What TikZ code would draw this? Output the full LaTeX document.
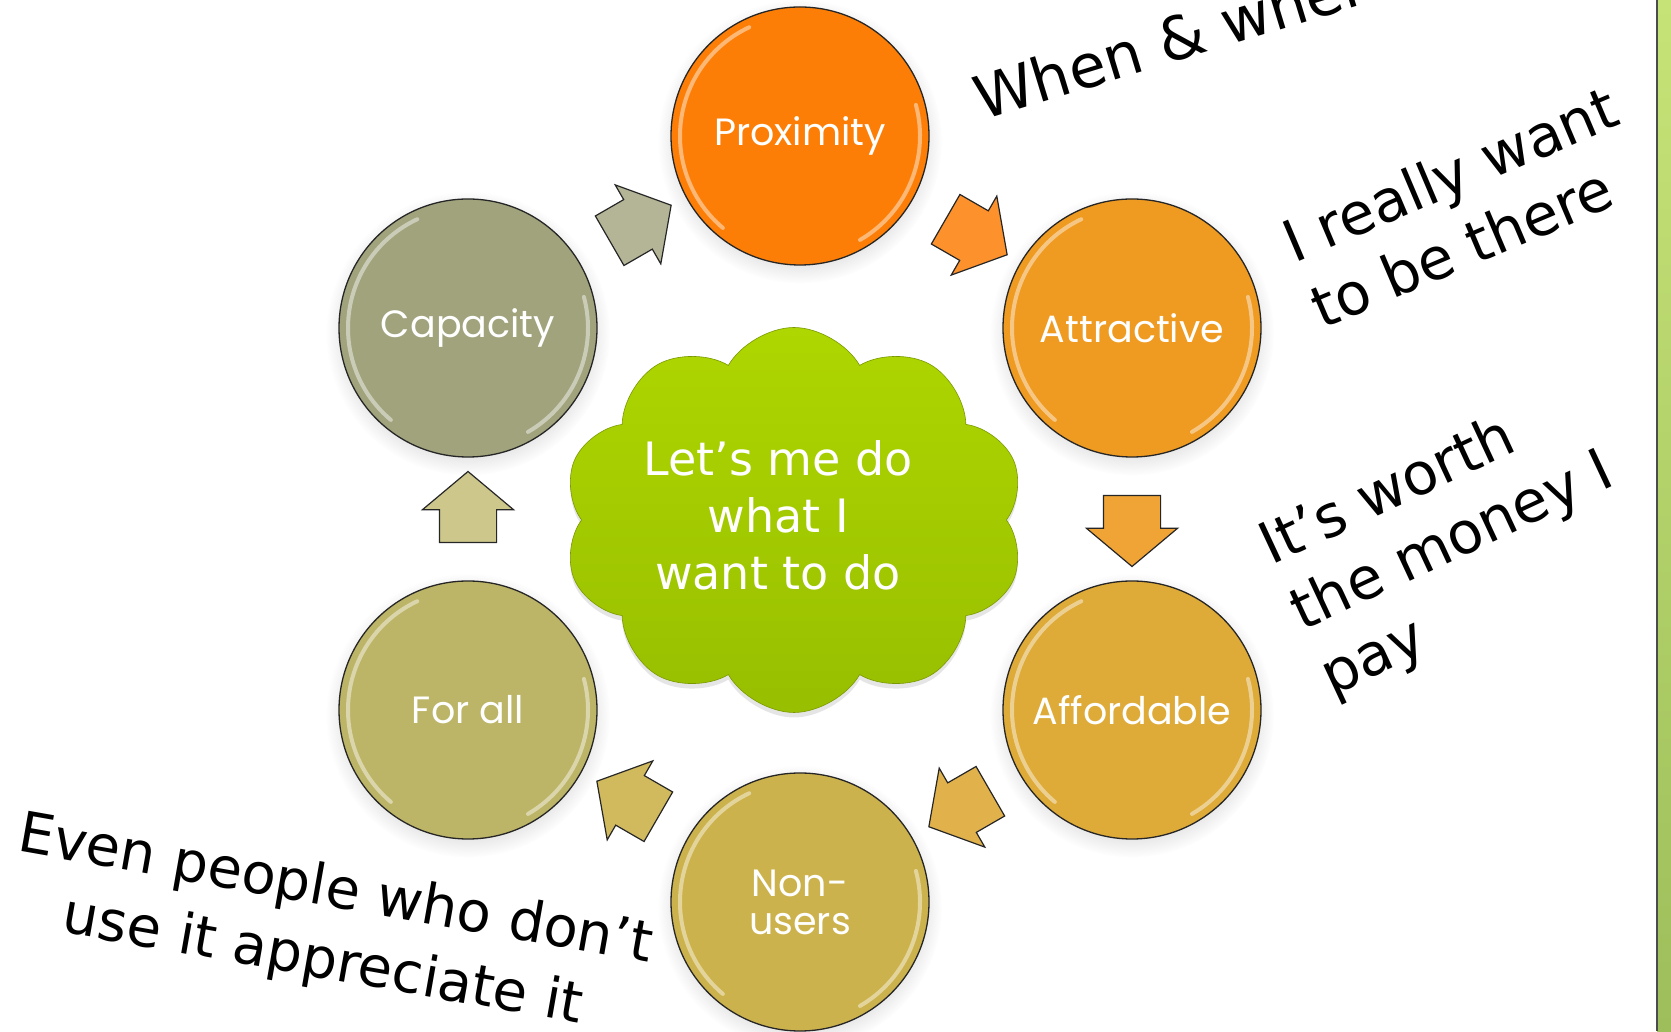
\documentclass[tikz,border=0pt]{standalone}
\usepackage{fontspec}
\setmainfont{DejaVu Sans}
\newfontfamily\ballfont{Poppins}
\usetikzlibrary{shapes.symbols,shapes.arrows,shadows}

\definecolor{proxC}{HTML}{FD7E07}
\definecolor{attrC}{HTML}{EF9A20}
\definecolor{affoC}{HTML}{DEAA38}
\definecolor{nonuC}{HTML}{CCB24C}
\definecolor{forC}{HTML}{BCB466}
\definecolor{capaC}{HTML}{A1A37D}
\definecolor{cloudTop}{HTML}{AED600}
\definecolor{cloudBot}{HTML}{98BF00}
\definecolor{barTop}{HTML}{C6E377}
\definecolor{barBot}{HTML}{9DBE5B}

\begin{document}
\begin{tikzpicture}[x=1pt,y=1pt]
		\tikzstyle{Ball}  = [circle, draw=black!85, line width=1.3pt, minimum size=258pt, inner sep=0pt, text=white, font=\ballfont\fontsize{38}{42}\selectfont, align=center, circular drop shadow={shadow xshift=0pt, shadow yshift=-5pt, opacity=0.2}]
		\tikzstyle{Gloss} = [white, opacity=0.45, line width=4pt, line cap=round]
		\tikzstyle{Turn}  = [single arrow, draw=black!85, line width=1.2pt, inner xsep=0pt, inner ysep=28pt, minimum height=71pt, single arrow head extend=17pt, single arrow tip angle=100]
		\tikzstyle{Note}  = [font=\fontsize{58}{72}\selectfont, align=left, inner sep=0pt]

		\clip (0,0) rectangle (1671,1031);
		\fill[white] (0,0) rectangle (1671,1031);

		% band on the right edge
		\fill[top color=barTop, bottom color=barBot] (1657,0) rectangle (1671,1031);
		\draw[black!70, line width=1.5pt] (1657,0) -- (1657,1031);

		\node (want) at (794,511) [cloud, cloud puffs=10, cloud puff arc=120, aspect=1.25, minimum width=462pt, minimum height=385pt, inner sep=0pt, top color=cloudTop, bottom color=cloudBot, draw=cloudBot!80!black, line width=0.6pt, drop shadow={shadow xshift=0pt, shadow yshift=-5pt, opacity=0.2}] {};
		\node (wanttext) at (778,516) [text=white, align=center, font=\fontsize{46}{57}\selectfont] {Let’s me do\\what I\\want to do};

		\node (prox) at (800,895) [Ball, fill=proxC] {Proximity};
		\node (attr) at (1132,703) [Ball, fill=attrC] {Attractive};
		\node (affo) at (1132,321) [Ball, fill=affoC] {Affordable};
		\node (nonu) at (800,129) [Ball, fill=nonuC] {Non-\\[-4pt]users};
		\node (fora) at (468,321) [Ball, fill=forC] {For all};
		\node (capa) at (468,703) [Ball, fill=capaC] {Capacity};

		\foreach \n in {prox,attr,affo,nonu,fora,capa} {
			\draw[Gloss] ([shift={(115:120)}]\n.center) arc[start angle=115, end angle=230, radius=120];
			\draw[Gloss] ([shift={(-60:120)}]\n.center) arc[start angle=-60, end angle=15, radius=120];
		}

		\node (t1) at (630,802) [Turn, fill=capaC!80!white, rotate=30] {};
		\node (t2) at (966,800) [Turn, fill=proxC!85!white, rotate=-30] {};
		\node (t3) at (1132,512) [Turn, fill=attrC!90!white, rotate=-90] {};
		\node (t4) at (970,228) [Turn, fill=affoC!90!white, rotate=-150] {};
		\node (t5) at (638,226) [Turn, fill=nonuC!90!white, rotate=150] {};
		\node (t6) at (468,512) [Turn, fill=forC!75!white, rotate=90] {};

		\node (when)   at (982,910) [Note, anchor=base west, font=\fontsize{60}{72}\selectfont, rotate=17] {When \& where};
		\node (really) at (1464,824) [Note, rotate=23] {I really want\\to be there};
		\node (worth)  at (1453,488) [Note, rotate=25] {It’s worth\\the money I\\pay};
		\node (even)   at (329,104) [Note, align=center, font=\fontsize{56}{72}\selectfont, rotate=-10] {Even people who don’t\\use it appreciate it};
	\end{tikzpicture}
\end{document}
